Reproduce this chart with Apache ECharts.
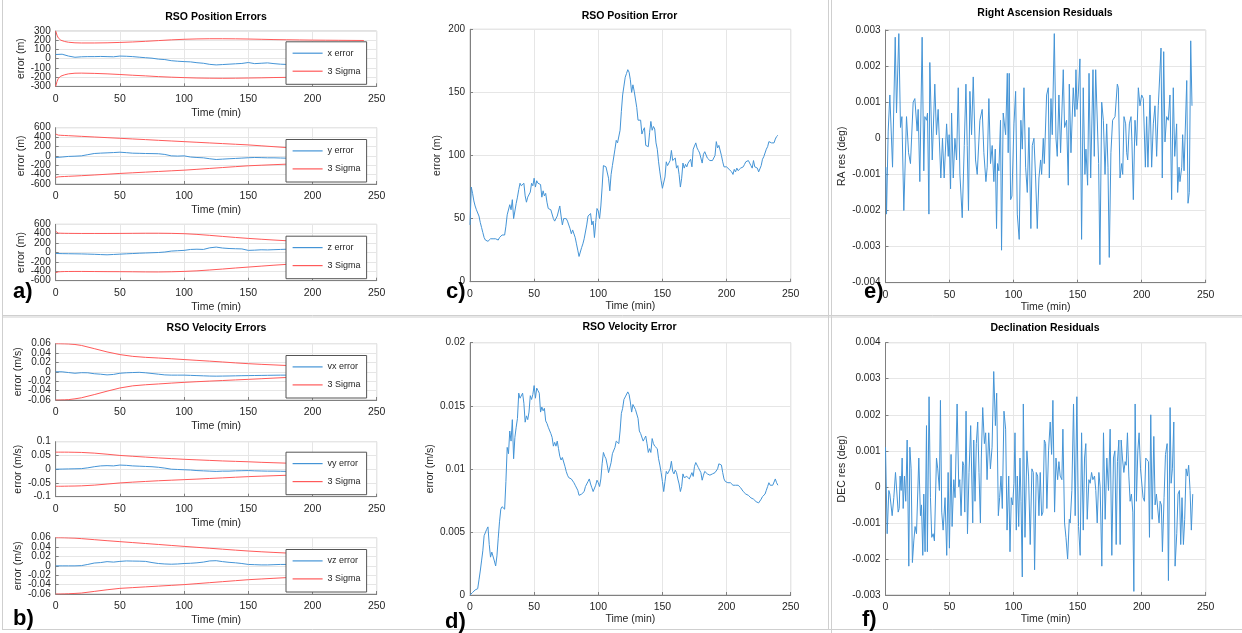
<!DOCTYPE html>
<html><head><meta charset="utf-8">
<script src="https://cdn.jsdelivr.net/npm/echarts@6/dist/echarts.min.js"></script>
<style>html,body{margin:0;padding:0;background:#fff}#c{width:1242px;height:633px}</style>
</head><body><div id="c"></div>
<script>
// ---------------- DATA ----------------
const timeTicks = [0, 50, 100, 150, 200, 250];
const sigTime = [0,1,2,4,7,10,15,20,30,40,50,60,70,80,90,100,110,120,130,140,150,160,170,180,190,200,210,220,230,240];
const errTime = [0,5,10,15,20,25,30,35,40,45,50,55,60,65,70,75,80,85,90,95,100,105,110,115,120,125,130,135,140,145,150,155,160,165,170,175,180,185,190,195,200,205,210,215,220,225,230,235,240];

const xErr = [45,48,28,15,20,22,22,24,22,20,28,26,22,16,10,5,-5,-10,-22,-28,-32,-35,-44,-50,-62,-68,-64,-60,-56,-52,-42,-54,-50,-46,-54,-60,-63,-66,-68,-70,-71,-70,-72,-73,-72,-74,-75,-76,-75];
const xSigUp = [300,255,225,200,186,178,172,170,170,172,176,181,188,196,204,210,214,216,216,215,213,210,207,205,203,201,200,199,198,197];
const xSigLo = [-300,-250,-215,-190,-175,-165,-158,-157,-160,-165,-172,-180,-187,-195,-201,-206,-210,-212,-213,-212,-210,-208,-205,-203,-201,-200,-199,-198,-197,-196];

const yErr = [-35,-25,-12,-7,0,25,50,58,64,70,78,68,57,54,50,48,45,30,0,-5,0,-25,-35,-42,-62,-78,-70,-62,-55,-48,-40,-35,-38,-42,-42,-46,-50,-52,-54,-55,-56,-57,-58,-58,-59,-60,-60,-61,-62];
const ySigUp = [465,446,442,438,434,430,423,416,402,388,374,360,346,331,317,303,289,275,261,247,233,214,195,176,162,150,140,132,126,120];
const ySigLo = [-460,-452,-448,-444,-440,-436,-430,-423,-408,-392,-375,-361,-347,-333,-319,-305,-287,-268,-249,-230,-212,-200,-188,-177,-166,-156,-148,-140,-134,-128];

const zErr = [-21,-24,-26,-28,-30,-34,-38,-44,-49,-42,-35,-28,-22,-15,-10,-5,0,10,30,38,45,65,70,65,100,115,95,85,80,76,45,50,58,55,60,65,70,72,75,78,80,82,84,86,88,90,92,94,95];
const zSigUp = [450,420,412,410,408,407,406,405,405,405,406,408,410,410,407,400,385,365,342,320,300,282,265,250,238,228,220,213,207,202];
const zSigLo = [-430,-418,-412,-408,-405,-404,-403,-403,-405,-407,-408,-410,-413,-414,-410,-402,-390,-372,-352,-330,-310,-290,-270,-252,-238,-226,-217,-210,-204,-200];

const vxErr = [0.0002,0.0001,-0.0015,-0.003,-0.0018,-0.002,-0.004,-0.005,-0.0065,-0.0055,-0.003,-0.002,-0.0015,-0.001,-0.002,-0.0035,-0.005,-0.0065,-0.007,-0.007,-0.007,-0.0075,-0.008,-0.0085,-0.009,-0.0092,-0.009,-0.0088,-0.0085,-0.0082,-0.008,-0.0078,-0.0076,-0.0074,-0.0072,-0.007,-0.007,-0.0069,-0.0068,-0.0068,-0.0067,-0.0066,-0.0066,-0.0065,-0.0065,-0.0064,-0.0064,-0.0063,-0.0063];
const vxSigUp = [0.06,0.06,0.06,0.0599,0.0597,0.0594,0.0583,0.0563,0.0495,0.0425,0.0368,0.033,0.0309,0.0295,0.0279,0.0262,0.0245,0.0228,0.021,0.0191,0.0174,0.016,0.0148,0.0135,0.0125,0.0116,0.0108,0.0101,0.0095,0.009];
const vxSigLo = [-0.06,-0.06,-0.06,-0.0599,-0.0597,-0.0592,-0.0575,-0.0553,-0.0485,-0.0412,-0.0344,-0.0298,-0.0275,-0.0258,-0.024,-0.0224,-0.021,-0.0197,-0.0185,-0.0172,-0.016,-0.0147,-0.0133,-0.012,-0.0111,-0.0103,-0.0096,-0.009,-0.0085,-0.0081];

const vyErr = [0,0.0005,0.001,0.0015,0.002,0.005,0.009,0.012,0.013,0.012,0.015,0.014,0.012,0.011,0.01,0.009,0.007,0.004,0,-0.001,-0.002,-0.003,-0.005,-0.006,-0.007,-0.008,-0.007,-0.007,-0.006,-0.0055,-0.005,-0.006,-0.0065,-0.007,-0.007,-0.0075,-0.008,-0.008,-0.0082,-0.0083,-0.0084,-0.0085,-0.0086,-0.0086,-0.0087,-0.0088,-0.0088,-0.0089,-0.009];
const vySigUp = [0.062,0.062,0.062,0.062,0.062,0.0619,0.0615,0.061,0.0585,0.0545,0.05,0.047,0.044,0.041,0.0385,0.036,0.034,0.032,0.03,0.0285,0.027,0.025,0.0235,0.022,0.021,0.02,0.019,0.018,0.0172,0.0165];
const vySigLo = [-0.062,-0.062,-0.062,-0.062,-0.0618,-0.0615,-0.0612,-0.0605,-0.058,-0.054,-0.05,-0.047,-0.0445,-0.042,-0.04,-0.038,-0.036,-0.0337,-0.0315,-0.0292,-0.027,-0.0253,-0.0237,-0.022,-0.021,-0.02,-0.019,-0.018,-0.0172,-0.0165];

const vzErr = [0,0,0,0,0.0005,0.003,0.006,0.007,0.009,0.008,0.0095,0.0105,0.0102,0.01,0.0095,0.007,0.005,0.004,0.0035,0.004,0.005,0.0055,0.0065,0.008,0.0105,0.011,0.009,0.0075,0.0065,0.005,0.003,0.0025,0.002,0.002,0.0025,0.003,0.003,0.003,0.0031,0.0032,0.0032,0.0033,0.0033,0.0034,0.0034,0.0035,0.0035,0.0036,0.0036];
const vzSigUp = [0.06,0.06,0.06,0.06,0.0598,0.0595,0.059,0.058,0.0558,0.0536,0.0516,0.0496,0.0476,0.0456,0.0435,0.0415,0.0395,0.0375,0.0355,0.0335,0.0316,0.03,0.0286,0.0273,0.0262,0.0252,0.0243,0.0235,0.0228,0.0222];
const vzSigLo = [-0.06,-0.06,-0.06,-0.06,-0.0598,-0.0595,-0.0588,-0.058,-0.0545,-0.051,-0.048,-0.0464,-0.0448,-0.0432,-0.0416,-0.04,-0.0379,-0.0358,-0.0337,-0.0316,-0.0295,-0.028,-0.0265,-0.025,-0.024,-0.0231,-0.0223,-0.0216,-0.021,-0.0205];

// one sample per minute, 0..240
const posErr = [45,75,70,64,60,57,58,52,47,43,39,35,33,33,32,33,34,35,34,35,
34,34,33,35,36,37,36,37,44,53,54,61,57,65,50,56,62,67,73,78,
76,77,78,68,63,67,66,71,78,76,82,75,80,78,79,77,67,72,68,70,
63,58,59,57,58,50,48,47,52,56,60,52,45,50,51,50,48,47,42,38,
41,40,35,30,25,20,21,27,30,34,33,45,52,53,54,45,48,35,47,58,
56,50,60,75,92,93,91,92,82,72,85,92,93,105,112,110,111,120,135,148,
155,162,165,168,166,160,150,156,151,150,138,128,127,128,117,120,122,108,107,107,
118,127,120,123,121,110,105,95,87,80,74,73,83,95,92,94,96,104,96,95,
98,90,92,85,75,82,94,90,93,91,94,95,97,91,105,104,110,106,104,102,
103,94,101,103,102,98,97,96,95,96,97,100,111,106,108,107,100,95,91,92,
91,91,89,89,87,85,89,87,90,88,89,90,90,91,93,95,96,96,95,92,
90,96,91,92,90,87,86,92,97,99,100,105,107,111,111,110,110,110,113,115,
116];
const velErr = [0,0.0001,0.0002,0.0003,0.0004,0.0004,0.0005,0.0012,0.0019,0.0027,0.0035,0.0047,0.0048,0.0052,0.0054,0.0040,0.0030,0.0034,0.0033,0.0027,
0.0023,0.0031,0.0045,0.0058,0.0068,0.0070,0.0070,0.0068,0.0090,0.0117,0.0112,0.0130,0.0122,0.0139,0.0108,0.0125,0.0133,0.0140,0.0160,0.0156,
0.0157,0.0160,0.0152,0.0137,0.0142,0.0139,0.0145,0.0158,0.0155,0.0159,0.0166,0.0156,0.0164,0.0162,0.0160,0.0145,0.0149,0.0146,0.0148,0.0138,
0.0136,0.0133,0.0132,0.0128,0.0125,0.0118,0.0121,0.0118,0.0122,0.0116,0.0110,0.0107,0.0109,0.0108,0.0102,0.0098,0.0095,0.0093,0.0092,0.0092,
0.0091,0.0089,0.0087,0.0086,0.0083,0.0079,0.0079,0.0080,0.0081,0.0082,0.0086,0.0088,0.0090,0.0092,0.0088,0.0085,0.0082,0.0081,0.0087,0.0091,
0.0089,0.0086,0.0092,0.0104,0.0113,0.0110,0.0108,0.0103,0.0097,0.0096,0.0105,0.0112,0.0111,0.0117,0.0122,0.0121,0.0120,0.0130,0.0144,0.0148,
0.0155,0.0157,0.0158,0.0161,0.0159,0.0153,0.0145,0.0151,0.0149,0.0147,0.0148,0.0140,0.0130,0.0128,0.0129,0.0122,0.0124,0.0126,0.0120,0.0113,
0.0116,0.0113,0.0124,0.0120,0.0118,0.0118,0.0116,0.0108,0.0103,0.0097,0.0090,0.0082,0.0090,0.0098,0.0096,0.0095,0.0100,0.0106,0.0098,0.0096,
0.0099,0.0097,0.0092,0.0088,0.0082,0.0086,0.0096,0.0093,0.0092,0.0094,0.0094,0.0092,0.0093,0.0097,0.0094,0.0102,0.0105,0.0103,0.0101,0.0099,
0.0097,0.0091,0.0095,0.0098,0.0097,0.0096,0.0095,0.0095,0.0096,0.0096,0.0096,0.0097,0.0097,0.0100,0.0104,0.0104,0.0103,0.0097,0.0092,0.0090,
0.0089,0.0089,0.0088,0.0089,0.0088,0.0087,0.0088,0.0087,0.0086,0.0087,0.0086,0.0085,0.0085,0.0082,0.0081,0.0080,0.0080,0.0079,0.0078,0.0077,
0.0077,0.0076,0.0076,0.0074,0.0073,0.0073,0.0074,0.0076,0.0078,0.0079,0.0080,0.0083,0.0086,0.0089,0.0087,0.0086,0.0087,0.0088,0.0092,0.0089,
0.0087];

// [time (min), residual (deg)]
const raResiduals = [[0.3,-0.0008],[0.8,-0.0021],[2.1,0.0002],[3.4,0.0012],[5.5,-0.0008],[7.6,0.0028],[8.6,0.0007],[10.4,0.0029],[11.7,0.0003],[12.8,0.0006],
[14.3,-0.002],[16.4,0.0006],[18,-0.0004],[19.5,-0.0007],[21.6,0.001],[22.9,0.0011],[24.7,0.0002],[25.5,0.0008],[26.8,-0.0012],[28.6,0.0028],
[29.9,-0.0009],[30.7,0.0006],[32,0.0005],[32.8,0.0007],[33.9,-0.0021],[34.6,0.0021],[36.5,-0.0006],[38.5,0.0015],[39.8,0.0001],[41.1,0.0008],
[43.2,-0.0011],[44.5,0],[45.8,-0.0011],[47.7,0.0004],[49,-0.0005],[49.7,0.0001],[50.8,-0.0014],[51.6,0.0007],[52.9,-0.0011],[54.2,0],
[55.5,-0.0006],[56.8,0.0014],[58.1,-0.001],[59.9,-0.0022],[61.5,-0.0002],[62.8,0.0015],[63.8,-0.0002],[64.8,-0.002],[65.9,0.0013],[67.2,0.0001],
[68.5,0.0017],[70.3,-0.0006],[71.6,-0.001],[73.7,0.0005],[75.5,0.0008],[76.8,-0.0004],[78.4,-0.0012],[79.4,-0.0008],[80.7,0.0011],[82,-0.0007],
[83.3,-0.0002],[84.6,-0.0012],[85.7,-0.0003],[86.7,-0.0025],[87.5,-0.0007],[88.5,-0.0009],[89.8,0.0005],[90.6,-0.0031],[91.9,0.0007],[93.8,0.0001],
[95.1,0.0018],[95.8,-0.0004],[96.6,0.0018],[97.7,-0.0017],[98.7,-0.0016],[100.3,0.0004],[101.6,0.0013],[102.9,-0.0021],[104.4,-0.0028],[105.7,0.0005],
[106.8,-0.0003],[108.1,0.0014],[109.4,-0.0008],[110.7,-0.0015],[112,0.0003],[113.5,-0.0025],[114.6,-0.0002],[115.9,0],[117.2,-0.0011],[118.5,-0.0025],
[119.8,-0.0011],[121.1,-0.0006],[121.9,-0.001],[123.2,0],[124,-0.0007],[125.8,0.0012],[127.1,0.0014],[127.9,-0.0011],[129.2,0.0011],[130.2,0.0001],
[131.8,0.0029],[133.1,0],[134.1,-0.0005],[135.4,0.0012],[136.7,-0.0004],[137.8,-0.0004],[138.8,0.0019],[139.8,0.0003],[141.4,0.0005],[142.7,-0.0013],
[143.5,0.0015],[144.8,-0.0004],[146.6,0.0014],[147.9,0.0006],[148.7,0.0019],[149.5,0.0008],[150.5,0.0012],[151.8,0.0022],[153.1,-0.0028],[154.4,0.0014],
[155.7,-0.001],[156.5,-0.0003],[157.8,-0.0013],[158.9,0.0018],[160.2,-0.0011],[162,0.0019],[163,-0.0005],[164.1,0.0019],[165.1,0.0019],[166.4,-0.0007],
[167.4,-0.0035],[168.8,0.001],[170.1,0.0005],[171.4,-0.001],[172.7,0.0004],[173.7,-0.0008],[174.7,-0.0033],[176,-0.0004],[177.3,0.0005],[179.2,0.0006],
[181,0.0015],[181.8,0.0014],[183.1,-0.0011],[184.4,-0.0007],[185.2,-0.001],[186.2,0.0006],[187.5,0.0004],[188.3,-0.0004],[189.1,-0.0006],[190.4,0.0004],
[191.7,0.0006],[192.4,-0.0001],[193.5,-0.0017],[194.8,0.0005],[196.1,-0.0002],[197.4,0.0014],[198.7,0.0009],[200,0.0012],[201.3,0.0011],[202.9,-0.0008],
[203.9,0.0006],[204.9,-0.0008],[206.5,0.0012],[207.8,-0.0008],[209.1,0.0004],[210.4,0.0009],[211.7,-0.0005],[213,0.0009],[214.3,0.0009],[215.1,0.0025],
[216.1,-0.0011],[217.2,0.0024],[218.2,-0.0001],[219.5,0.0006],[220.8,0.0005],[222.1,0.0012],[223.4,-0.0017],[224.7,0.0014],[225.8,-0.0005],[227.3,0.0004],
[228.1,-0.0015],[229.2,-0.0008],[229.9,-0.0012],[231.3,-0.0008],[232,0.0001],[233.1,-0.0009],[233.9,-0.0009],[235.2,0.0016],[236.2,-0.0018],[237.2,-0.0015],
[238.3,0.0027],[239.3,0.0009]];

const decResiduals = [[0,0.0011],[1.3,-0.0013],[2.6,-0.0001],[3.4,-0.0002],[5.2,-0.0008],[6.5,-0.0003],[7.8,0.0004],[8.6,0.0004],[9.9,-0.0007],[10.7,-0.0006],
[11.4,0.0003],[12.2,-0.0001],[13,0.0008],[13.8,-0.0006],[14.8,0.0003],[15.8,-0.0004],[16.9,0.0013],[18.2,-0.0022],[19,0.0011],[20,0.0005],
[21,-0.0021],[22.1,-0.0015],[23.1,-0.0011],[24.2,-0.0013],[26,0.0008],[27.3,-0.0008],[28.1,-0.0005],[29.1,-0.0019],[29.9,-0.0002],[30.9,-0.0018],
[32,0.0017],[32.7,-0.0018],[34,0.0025],[35.1,-0.0003],[36.1,-0.0014],[37.2,-0.0013],[38.2,-0.0015],[39.8,0.0008],[40.8,0.0005],[42.1,-0.0001],
[42.9,0.0024],[43.9,-0.0007],[45,-0.0012],[46.5,-0.0003],[47.8,-0.0019],[48.9,0.0004],[49.9,-0.0017],[51.2,0.0009],[52,-0.0011],[53.3,0.0002],
[54.3,-0.0003],[55.9,0.0023],[57.2,0],[58,0.0002],[59,-0.0008],[60.3,0.0007],[61.1,0.0006],[61.9,-0.0007],[62.9,0.0021],[64,-0.0013],
[65.2,0.0004],[66.5,0.0017],[68.1,-0.001],[68.9,0.0013],[69.9,-0.0004],[70.9,0.0012],[72,0.0018],[73,0.0004],[74.1,-0.001],[74.8,0.0008],
[75.9,0.0022],[77.2,0.0012],[78.2,0.0015],[79.3,0.0002],[80.6,0.0015],[81.9,0.0005],[83.2,0.0011],[84.5,0.0032],[85.8,0.0017],[86.8,0.0026],
[88.1,-0.0008],[89.1,-0.0003],[90.2,0.0003],[91.2,-0.0006],[92.5,0.0021],[93.8,0.0016],[94.9,-0.0012],[96.2,0.0003],[97.2,-0.0018],[98.2,-0.0003],
[99.3,-0.0005],[100.3,0.0001],[101.1,0.0015],[102.1,-0.0012],[102.9,0.0003],[104,-0.0011],[105,0.0008],[105.8,-0.0004],[106.8,-0.0025],[107.6,0.0023],
[108.9,-0.0014],[110.4,0.001],[111.7,0.0003],[113,-0.0016],[114.3,0.0005],[115.4,0.0004],[116.4,-0.0023],[117.7,0.0004],[118.8,0.0003],[119.8,-0.0008],
[120.8,0.0004],[121.9,-0.0008],[122.9,-0.0007],[124,0.0013],[125,0.0012],[126,-0.0006],[127.3,0.001],[128.6,0.0018],[129.7,0.0009],[130.7,0.0024],
[132,-0.0007],[133.1,0.0008],[134.4,0.0002],[135.4,0.0007],[136.4,0.0003],[137.7,0.0002],[138.5,0.0016],[139.8,-0.001],[140.9,-0.0014],[142.2,-0.002],
[143.5,-0.0009],[144.2,-0.001],[145.5,-0.0001],[146.8,0.0023],[148.1,-0.0008],[149.4,0.0025],[150.7,-0.0011],[152,-0.0019],[153.1,0.0015],[154.4,-0.0012],
[155.4,0.0008],[156.4,0.0012],[157.5,-0.0009],[158.8,0.0002],[159.8,0.0001],[160.9,0.0004],[161.9,0.0002],[163.2,0.0003],[164.2,-0.0001],[165.3,-0.001],
[166.6,0.0004],[167.6,0],[168.9,-0.0022],[170.2,0.0015],[171.5,-0.0009],[172.8,0.0008],[174.1,-0.0001],[175.4,0.0016],[176.7,-0.0019],[178,0.0008],
[179.1,0.001],[180.1,-0.0016],[181.1,0.0007],[182.2,0.0013],[183.2,-0.0016],[184,0.0013],[185,0.0008],[186.1,0.0004],[187.1,0.0007],[187.9,0.0006],
[188.9,0.0015],[190,0.0003],[191,-0.0004],[192,-0.0002],[193.1,-0.0007],[193.9,-0.0029],[194.9,0.0023],[195.9,-0.0004],[197,0.001],[198,0.0015],
[199.1,0.0005],[200.1,0.0005],[201.1,-0.0003],[202.2,-0.0004],[203.2,0.0008],[204.3,0.0008],[205.3,0.0007],[206.1,-0.0014],[207.1,0.002],[208.2,-0.0009],
[209.5,0.0014],[210.5,-0.0005],[211.5,-0.0002],[212.6,-0.0002],[213.6,-0.001],[214.4,-0.0004],[215.4,-0.0005],[216.2,-0.0018],[217.5,-0.0003],[218.6,0.0009],
[219.9,0.0012],[220.9,-0.0026],[222.2,0.0022],[223,0.0001],[224,0.0005],[225.1,0.0018],[226.1,-0.0022],[227.4,-0.0013],[228.4,-0.0002],[229.5,-0.0001],
[230.5,-0.0016],[231.5,-0.0003],[232.6,-0.0016],[233.6,-0.0009],[234.7,0.0005],[235.7,0.0003],[236.7,0.0006],[237.8,-0.0001],[238.8,-0.0012],[239.9,-0.0002]];

// ---------------- CHART ----------------
const FONT = '"Liberation Sans", Arial, Helvetica, sans-serif';
const BLUE = '#4494d6', RED = '#ff5a5a', AXC = '#808080', GRIDC = '#e6e6e6', TXT = '#262626';
const minutes = posErr.map((_, i) => i);
const zip = (t, v) => t.map((x, i) => [x, v[i]]);
const fmt = v => String(Math.round(v * 1e6) / 1e6);

const small = [
  {top:31,    h:55.3, y:[-300,300,100],      name:'error (m)',   err:'x error',  e:xErr,  up:xSigUp,  lo:xSigLo},
  {top:127.7, h:56.3, y:[-600,600,200],      name:'error (m)',   err:'y error',  e:yErr,  up:ySigUp,  lo:ySigLo},
  {top:224.3, h:56.4, y:[-600,600,200],      name:'error (m)',   err:'z error',  e:zErr,  up:zSigUp,  lo:zSigLo},
  {top:343.7, h:56.3, y:[-0.06,0.06,0.02],   name:'error (m/s)', err:'vx error', e:vxErr, up:vxSigUp, lo:vxSigLo},
  {top:441.7, h:55,   y:[-0.1,0.1,0.05],     name:'error (m/s)', err:'vy error', e:vyErr, up:vySigUp, lo:vySigLo},
  {top:537.7, h:56.3, y:[-0.06,0.06,0.02],   name:'error (m/s)', err:'vz error', e:vzErr, up:vzSigUp, lo:vzSigLo}
];
const big = [
  {left:470,   top:29.3,  w:320.7, h:252.4, y:[0,200,50],           name:'error (m)',     gap:27, data: zip(minutes, posErr)},
  {left:470,   top:342.7, w:320.7, h:252.3, y:[0,0.02,0.005],       name:'error (m/s)',   gap:32, data: zip(minutes, velErr)},
  {left:885.5, top:30,    w:320.2, h:252.7, y:[-0.004,0.003,0.001], name:'RA res (deg)',  gap:38, data: raResiduals},
  {left:885.5, top:342.7, w:320.2, h:252.3, y:[-0.003,0.004,0.001], name:'DEC res (deg)', gap:38, data: decResiduals}
];

const grids = [], xAxes = [], yAxes = [], extraY = [], legends = [], series = [];
const labelBase = {fontFamily:FONT, fontSize:10, color:TXT};
function addAxes(i, yr, yname, ygap, xgap, xmargin, dense) {
  xAxes.push({type:'value', gridIndex:i, min:timeTicks[0], max:timeTicks[timeTicks.length-1], interval:timeTicks[1]-timeTicks[0],
    name:'Time (min)', nameLocation:'middle', nameGap:xgap,
    nameTextStyle:{fontFamily:FONT, fontSize:10.5, color:TXT},
    axisLine:{show:true, onZero:false, lineStyle:{color:AXC}},
    axisTick:{show:true, inside:true, length:3, lineStyle:{color:AXC}},
    axisLabel:Object.assign({}, labelBase, {fontSize:10.5, margin:xmargin, showMinLabel:true, showMaxLabel:true}),
    splitLine:{show:true, lineStyle:{color:GRIDC, width:1}}});
  yAxes.push({type:'value', gridIndex:i, position:'left', min:yr[0], max:yr[1], interval:yr[2],
    name:yname, nameLocation:'middle', nameGap:ygap,
    nameTextStyle:{fontFamily:FONT, fontSize:10.5, color:TXT},
    axisLine:{show:true, onZero:false, lineStyle:{color:AXC}},
    axisTick:{show:true, inside:true, length:3, lineStyle:{color:AXC}},
    axisLabel:Object.assign({margin:5, formatter:fmt, showMinLabel:!dense, showMaxLabel:!dense}, labelBase),
    splitLine:{show:true, lineStyle:{color:GRIDC, width:1}}});
  if (dense) {
    // companion axis on the same scale that only labels the two end ticks
    extraY.push({type:'value', gridIndex:i, position:'left', min:yr[0], max:yr[1], interval:yr[1]-yr[0],
      axisLine:{show:false}, axisTick:{show:false}, splitLine:{show:false},
      axisLabel:Object.assign({margin:5, formatter:fmt, showMinLabel:true, showMaxLabel:true}, labelBase)});
  }
}
function line(i, name, data, color) {
  series.push({type:'line', name, xAxisIndex:i, yAxisIndex:i, data, symbol:'none', showSymbol:false,
    lineStyle:{color, width:1}, itemStyle:{color}, emphasis:{disabled:true}, animation:false, z:2});
}

small.forEach((p, i) => {
  grids.push({left:55.7, top:p.top, width:321, height:p.h, show:true, borderColor:'#c4c4c4', borderWidth:1, outerBoundsMode:'none', containLabel:false});
  addAxes(i, p.y, p.name, 29, 21, 7, true);
  line(i, p.err, zip(errTime, p.e), BLUE);
  line(i, '3 Sigma', zip(sigTime, p.up), RED);
  line(i, '3 Sigma', zip(sigTime, p.lo), RED);
  legends.push({orient:'vertical', left:286, top:p.top + p.h - 44.5, data:[p.err, '3 Sigma'], selectedMode:false,
    backgroundColor:'#fff', borderColor:'#555', borderWidth:1, borderRadius:0, padding:[6.6,6,8.3,6],
    itemGap:8.4, itemWidth:30, itemHeight:12, itemStyle:{opacity:0},
    lineStyle:{width:1.2},
    textStyle:{fontFamily:FONT, fontSize:9, color:TXT}});
});
big.forEach((p, k) => {
  const i = small.length + k;
  grids.push({left:p.left, top:p.top, width:p.w, height:p.h, show:true, borderColor:'#c4c4c4', borderWidth:1, outerBoundsMode:'none', containLabel:false});
  addAxes(i, p.y, p.name, p.gap, 18.8, 6.5, false);
  line(i, p.name, p.data, BLUE);
});

const T = (text, x, y, size, weight, align) => ({type:'text', x, y, z:100,
  style:{text, fill:'#000', fontFamily:FONT, fontSize:size, fontWeight:weight, align:align||'center', verticalAlign:'middle'}});
const L = (x1, y1, x2, y2) => ({type:'line', z:50, shape:{x1, y1, x2, y2}, style:{stroke:'#cfcfcf', lineWidth:1}});
const graphics = [
  L(2.5,0,2.5,630), L(828.5,0,828.5,630), L(831.5,0,831.5,633),
  L(2.5,315.5,1242,315.5), L(2.5,317,1242,317), L(2.5,629.5,1242,629.5),
  T('RSO Position Errors', 216, 16.7, 10.5, 'bold'),
  T('RSO Velocity Errors', 216.5, 327.7, 10.5, 'bold'),
  T('RSO Position Error', 629.5, 15.7, 10.5, 'bold'),
  T('RSO Velocity Error', 629.5, 326.7, 10.5, 'bold'),
  T('Right Ascension Residuals', 1045, 13.5, 10.5, 'bold'),
  T('Declination Residuals', 1045, 328.3, 10.5, 'bold'),
  T('a)', 13, 292, 22, 'bold', 'left'),
  T('b)', 13, 619, 22, 'bold', 'left'),
  T('c)', 446, 292, 22, 'bold', 'left'),
  T('d)', 445, 622, 22, 'bold', 'left'),
  T('e)', 864, 291.6, 22, 'bold', 'left'),
  T('f)', 862, 620, 22, 'bold', 'left')
];

const chart = echarts.init(document.getElementById('c'), null, {renderer:'canvas'});
chart.setOption({
  animation:false,
  backgroundColor:'#fff',
  grid:grids, xAxis:xAxes, yAxis:yAxes.concat(extraY), legend:legends, series:series,
  graphic:{elements:graphics}
});
</script></body></html>
